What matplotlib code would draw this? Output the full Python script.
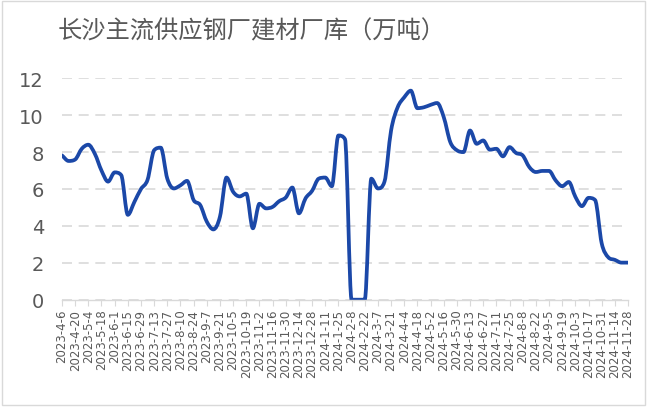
import numpy as np
import pandas as pd
import matplotlib
matplotlib.use("Agg")
from matplotlib import pyplot as plt
from matplotlib.path import Path
from matplotlib.patches import PathPatch, Rectangle

plt.rcParams['font.family'] = ['Noto Sans CJK SC', 'DejaVu Sans']

title = '长沙主流供应钢厂建材厂库（万吨）'

# weekly dates, Thursday to Thursday
dates = pd.date_range('2023-04-06', '2024-11-28', freq='7D')
date_labels = [f'{d.year}-{d.month}-{d.day}' for d in dates]

stock = [
    7.82, 7.52, 7.60, 8.18, 8.40, 7.90, 7.00, 6.40, 6.90, 6.75,
    4.60, 5.30, 6.00, 6.50, 8.10, 8.24, 6.56, 6.03, 6.20, 6.44,
    5.40, 5.13, 4.23, 3.81, 4.50, 6.62, 5.85, 5.60, 5.75, 3.87,
    5.20, 4.95, 5.03, 5.34, 5.54, 6.08, 4.68, 5.49, 5.90, 6.56,
    6.62, 6.15, 8.90, 8.70, 0.00, 0.00, 0.00, 6.56, 6.03, 6.40,
    9.17, 10.43, 10.97, 11.33, 10.38, 10.43, 10.56, 10.66, 9.90, 8.54,
    8.10, 8.00, 9.17, 8.45, 8.63, 8.13, 8.18, 7.77, 8.27, 7.95,
    7.82, 7.19, 6.92, 6.98, 6.98, 6.47, 6.15, 6.38, 5.58, 5.07,
    5.52, 5.40, 3.06, 2.30, 2.16, 2.01, 2.01,
]

grey_text = '#595959'
grid_col = '#d9d9d9'
line_col = '#1b48a8'


def smooth_path(xs, ys):
    # bezier through every point, tangents limited so it doesn't overshoot
    xs = np.asarray(xs, float)
    ys = np.asarray(ys, float)
    n = len(ys)
    d = np.diff(ys)
    t = np.zeros(n)
    t[0], t[-1] = d[0], d[-1]
    for i in range(1, n - 1):
        if d[i - 1] * d[i] <= 0:
            t[i] = 0.0
        else:
            t[i] = (d[i - 1] + d[i]) / 2
            lim = 3 * min(abs(d[i - 1]), abs(d[i]))
            t[i] = np.sign(t[i]) * min(abs(t[i]), lim)
    verts = [(xs[0], ys[0])]
    codes = [Path.MOVETO]
    for i in range(n - 1):
        h = xs[i + 1] - xs[i]
        verts += [(xs[i] + h / 3, ys[i] + t[i] / 3),
                  (xs[i + 1] - h / 3, ys[i + 1] - t[i + 1] / 3),
                  (xs[i + 1], ys[i + 1])]
        codes += [Path.CURVE4] * 3
    return Path(verts, codes)


fig = plt.figure(figsize=(6.5, 4.1), dpi=100)
ax = fig.add_axes([62 / 650, 1 - 300.7 / 410, 566 / 650, 221.4 / 410])

x = np.arange(len(stock))
ax.add_patch(PathPatch(smooth_path(x, stock), fill=False, edgecolor=line_col,
                       lw=2.7, capstyle='round', joinstyle='round'))

ax.set_xlim(0, len(stock) - 1)
ax.set_ylim(0, 12)
ax.set_yticks(range(0, 13, 2))
ax.set_xticks(x[::2])
ax.set_xticklabels(date_labels[::2], rotation=90, fontsize=8.5,
                   color=grey_text, family='DejaVu Sans')
ax.tick_params(axis='x', length=4.5, width=0.8, color=grid_col, pad=2)
ax.tick_params(axis='y', length=0, labelsize=14, labelcolor=grey_text, pad=13)
for lab in ax.get_yticklabels():
    lab.set_family('DejaVu Sans')

ax.grid(axis='y', color=grid_col, lw=1.2, ls=(0, (6, 4)))
ax.set_axisbelow(True)
for side in ['top', 'right', 'left']:
    ax.spines[side].set_visible(False)
ax.spines['bottom'].set_color(grid_col)
ax.spines['bottom'].set_linewidth(1.0)

fig.text(252 / 650, 1 - 31 / 410, title, ha='center', va='center',
         fontsize=17.5, color=grey_text, fontweight='medium')

fig.patches.append(Rectangle((0.003, 0.01), 0.99, 0.985, transform=fig.transFigure,
                             fill=False, edgecolor=grid_col, lw=1.0))

fig.savefig('out.png', dpi=100)
